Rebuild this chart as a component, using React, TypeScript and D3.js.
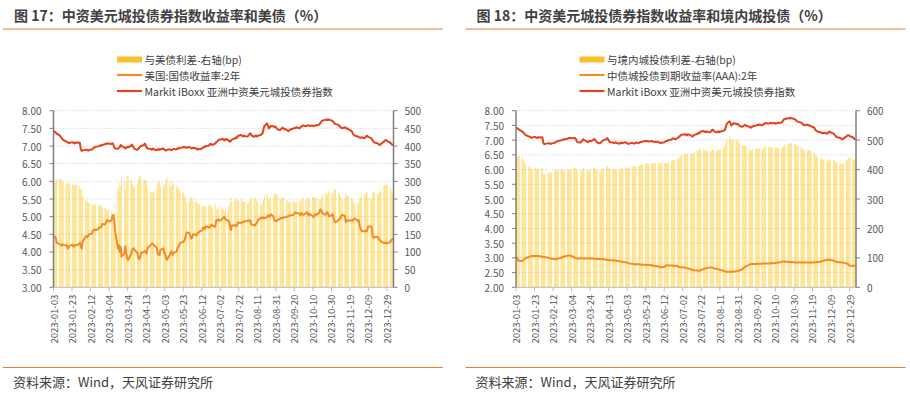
import React from 'react';
import * as d3 from 'd3';

// Markit iBoxx 亚洲中资美元城投债券指数 (%), one value per trading day
const markitIndex = [
  7.43, 7.40, 7.38, 7.35,
  7.30, 7.27, 7.24, 7.20, 7.17, 7.13, 7.12, 7.10, 7.08, 7.09,
  7.11, 7.09, 7.07, 7.10, 7.09, 7.10, 7.09, 6.90, 6.86, 6.88,
  6.89, 6.90, 6.88, 6.87, 6.89, 6.90, 6.93, 6.95, 6.96, 6.98,
  6.99, 7.00, 7.02, 7.01, 7.03, 7.05, 7.07, 7.06, 7.08, 7.07,
  7.06, 7.08, 7.05, 6.97, 6.93, 6.92, 6.95, 6.97, 7.03, 7.00,
  6.96, 6.93, 6.95, 6.98, 6.96, 7.00, 7.04, 7.01, 6.96, 6.92,
  6.89, 6.92, 6.95, 6.98, 7.00, 7.03, 7.07, 7.02, 6.96, 6.93,
  6.92, 6.90, 6.91, 6.93, 6.90, 6.88, 6.90, 6.92, 6.89, 6.91,
  6.93, 6.90, 6.88, 6.87, 6.89, 6.91, 6.89, 6.88, 6.90, 6.92,
  6.90, 6.92, 6.94, 6.93, 6.95, 6.96, 6.98, 6.96, 6.97, 6.95,
  6.97, 6.96, 6.94, 6.93, 6.95, 6.94, 6.92, 6.90, 6.92, 6.91,
  6.93, 6.96, 6.98, 6.97, 7.00, 7.01, 7.04, 7.06, 7.05, 7.03,
  7.07, 7.10, 7.13, 7.15, 7.18, 7.19, 7.21, 7.18, 7.16, 7.20,
  7.17, 7.14, 7.12, 7.15, 7.18, 7.21, 7.24, 7.22, 7.26, 7.29,
  7.31, 7.29, 7.27, 7.30, 7.28, 7.27, 7.30, 7.34, 7.36, 7.31,
  7.26, 7.28, 7.30, 7.27, 7.29, 7.31, 7.33, 7.35, 7.45, 7.56,
  7.64, 7.58, 7.50, 7.53, 7.57, 7.56, 7.54, 7.55, 7.51, 7.48,
  7.45, 7.48, 7.50, 7.52, 7.49, 7.46, 7.44, 7.42, 7.44, 7.47,
  7.49, 7.50, 7.52, 7.51, 7.53, 7.50, 7.52, 7.55, 7.57, 7.58,
  7.56, 7.57, 7.59, 7.58, 7.57, 7.58, 7.56, 7.57, 7.59, 7.58,
  7.60, 7.63, 7.67, 7.71, 7.72, 7.74, 7.75, 7.73, 7.76, 7.74,
  7.72, 7.70, 7.67, 7.64, 7.62, 7.60, 7.57, 7.55, 7.52, 7.50,
  7.53, 7.51, 7.49, 7.50, 7.47, 7.43, 7.39, 7.34, 7.31, 7.29,
  7.27, 7.25, 7.24, 7.23, 7.25, 7.22, 7.24, 7.28, 7.29, 7.26,
  7.23, 7.20, 7.16, 7.12, 7.10, 7.08, 7.06, 7.04, 7.03, 7.06,
  7.12, 7.15, 7.17, 7.16, 7.13,
  7.10, 7.07, 7.04, 7.01,
];

// 美国:国债收益率:2年 (%)
const ust2y = [
  4.45, 4.43, 4.38, 4.26,
  4.22, 4.21, 4.18, 4.22, 4.20, 4.18, 4.19, 4.10, 4.13, 4.18,
  4.21, 4.15, 4.17, 4.20, 4.19, 4.22, 4.26, 4.14, 4.10, 4.29,
  4.43, 4.45, 4.42, 4.46, 4.50, 4.52, 4.60, 4.62, 4.64, 4.61,
  4.66, 4.70, 4.69, 4.70, 4.79, 4.78, 4.82, 4.89, 4.90, 4.86,
  4.89, 5.01, 5.05, 4.90, 4.60, 4.10, 4.20, 4.00, 4.15, 3.87,
  3.95, 4.16, 3.96, 3.83, 3.77, 3.93, 4.03, 4.08, 4.11, 4.06,
  3.98, 3.84, 3.80, 3.83, 3.97, 4.00, 4.03, 3.99, 3.96, 4.10,
  4.19, 4.21, 4.24, 4.23, 4.18, 4.12, 3.96, 3.92, 3.91, 4.06,
  4.10, 3.98, 3.95, 3.82, 3.78, 3.92, 4.00, 4.02, 3.92, 3.98,
  4.00, 4.08, 4.14, 4.18, 4.25, 4.28, 4.30, 4.35, 4.42, 4.55,
  4.54, 4.46, 4.38, 4.40, 4.50, 4.49, 4.47, 4.53, 4.55, 4.58,
  4.61, 4.69, 4.70, 4.65, 4.72, 4.71, 4.69, 4.72, 4.78, 4.75,
  4.71, 4.87, 4.90, 4.93, 4.88, 4.92, 4.95, 4.96, 5.00, 4.93,
  4.88, 4.86, 4.72, 4.62, 4.75, 4.76, 4.74, 4.73, 4.80, 4.84,
  4.81, 4.85, 4.84, 4.86, 4.87, 4.88, 4.90, 4.88, 4.89, 4.78,
  4.76, 4.75, 4.80, 4.82, 4.89, 4.96, 4.98, 4.95, 4.98, 4.95,
  4.99, 5.04, 5.02, 5.00, 5.07, 5.00, 4.89, 4.88, 4.87, 4.90,
  4.93, 4.97, 4.96, 4.95, 4.98, 4.99, 5.00, 5.03, 5.02, 5.04,
  5.05, 5.07, 5.11, 5.12, 5.10, 5.09, 5.05, 5.10, 5.06, 5.05,
  5.09, 5.13, 5.09, 5.03, 5.08, 5.02, 4.99, 5.02, 5.07, 5.05,
  5.10, 5.19, 5.20, 5.14, 5.09, 5.05, 5.10, 5.13, 5.07, 5.01,
  5.04, 5.07, 4.95, 4.86, 4.84, 4.90, 4.93, 4.95, 5.01, 5.05,
  5.02, 4.85, 4.90, 4.88, 4.89, 4.90, 4.88, 4.92, 4.93, 4.95,
  4.88, 4.90, 4.73, 4.67, 4.60, 4.58, 4.60, 4.59, 4.60, 4.72,
  4.72, 4.70, 4.45, 4.40, 4.42, 4.43, 4.41, 4.35, 4.33, 4.30,
  4.25, 4.26, 4.24, 4.27, 4.25,
  4.28, 4.33, 4.35, 4.39,
];

// 中债城投债到期收益率(AAA):2年 (%)
const cnLgfv2y = [
  3.04, 2.97, 2.91, 2.90,
  2.89, 2.91, 2.94, 2.97, 2.99, 3.03, 3.04, 3.05, 3.06, 3.06,
  3.06, 3.06, 3.06, 3.06, 3.06, 3.05, 3.04, 3.03, 3.03, 3.02,
  3.01, 3.00, 2.99, 2.98, 2.97, 2.96, 2.95, 2.96, 2.97, 2.98,
  3.00, 3.02, 3.03, 3.04, 3.05, 3.07, 3.08, 3.08, 3.07, 3.07,
  3.03, 3.00, 2.99, 2.98, 2.98, 2.98, 2.99, 2.99, 2.98, 2.98,
  2.98, 2.98, 2.99, 2.99, 2.98, 2.98, 2.97, 2.97, 2.97, 2.96,
  2.96, 2.96, 2.95, 2.95, 2.95, 2.94, 2.93, 2.93, 2.93, 2.92,
  2.92, 2.91, 2.91, 2.91, 2.90, 2.89, 2.88, 2.87, 2.87, 2.86,
  2.85, 2.84, 2.83, 2.82, 2.81, 2.80, 2.79, 2.78, 2.78, 2.78,
  2.78, 2.78, 2.77, 2.77, 2.77, 2.77, 2.76, 2.76, 2.76, 2.76,
  2.75, 2.74, 2.73, 2.72, 2.72, 2.71, 2.70, 2.69, 2.68, 2.68,
  2.70, 2.73, 2.75, 2.75, 2.74, 2.74, 2.74, 2.73, 2.73, 2.73,
  2.72, 2.70, 2.69, 2.68, 2.68, 2.67, 2.66, 2.66, 2.65, 2.64,
  2.62, 2.60, 2.59, 2.59, 2.58, 2.57, 2.56, 2.56, 2.57, 2.59,
  2.61, 2.63, 2.64, 2.65, 2.66, 2.67, 2.67, 2.67, 2.66, 2.64,
  2.63, 2.62, 2.61, 2.60, 2.59, 2.57, 2.55, 2.54, 2.53, 2.53,
  2.53, 2.53, 2.53, 2.53, 2.54, 2.54, 2.55, 2.56, 2.56, 2.58,
  2.62, 2.65, 2.68, 2.70, 2.72, 2.76, 2.78, 2.78, 2.79, 2.79,
  2.79, 2.79, 2.80, 2.80, 2.80, 2.80, 2.81, 2.81, 2.81, 2.81,
  2.81, 2.81, 2.82, 2.82, 2.82, 2.82, 2.83, 2.83, 2.84, 2.84,
  2.86, 2.88, 2.88, 2.88, 2.87, 2.87, 2.86, 2.86, 2.86, 2.85,
  2.85, 2.84, 2.84, 2.84, 2.84, 2.84, 2.84, 2.84, 2.84, 2.84,
  2.84, 2.84, 2.84, 2.84, 2.84, 2.84, 2.85, 2.85, 2.86, 2.86,
  2.87, 2.88, 2.89, 2.90, 2.91, 2.93, 2.94, 2.94, 2.94, 2.93,
  2.91, 2.89, 2.88, 2.87, 2.86, 2.85, 2.85, 2.84, 2.84, 2.83,
  2.82, 2.81, 2.78, 2.75, 2.73,
  2.73, 2.73, 2.73, 2.73,
];

// 与美债利差-右轴 (bp)
const spreadVsUst = [
  298, 297, 300, 309,
  308, 306, 306, 298, 297, 295, 293, 300, 295, 291,
  290, 294, 290, 290, 290, 288, 283, 276, 276, 259,
  246, 245, 246, 241, 239, 238, 233, 233, 232, 237,
  233, 230, 233, 231, 224, 227, 225, 217, 218, 221,
  217, 207, 200, 207, 233, 282, 275, 297, 288, 313,
  301, 277, 299, 315, 319, 307, 301, 293, 285, 286,
  291, 308, 315, 315, 303, 303, 304, 303, 300, 283,
  273, 269, 267, 270, 272, 276, 294, 300, 298, 285,
  283, 292, 293, 305, 311, 299, 289, 286, 298, 294,
  290, 284, 280, 275, 270, 268, 268, 261, 255, 240,
  243, 250, 256, 253, 245, 245, 245, 237, 237, 233,
  232, 227, 228, 232, 228, 230, 235, 234, 227, 228,
  236, 223, 223, 222, 230, 227, 226, 222, 216, 227,
  229, 228, 240, 253, 243, 245, 250, 249, 246, 245,
  250, 244, 243, 244, 241, 239, 240, 246, 247, 253,
  250, 253, 250, 245, 240, 235, 235, 240, 247, 261,
  265, 254, 248, 253, 250, 256, 265, 267, 264, 258,
  252, 251, 254, 257, 251, 247, 244, 239, 242, 243,
  244, 243, 241, 239, 243, 241, 247, 245, 251, 253,
  247, 244, 250, 255, 249, 256, 257, 255, 252, 253,
  250, 244, 247, 257, 263, 269, 265, 260, 269, 273,
  268, 263, 272, 278, 278, 270, 264, 260, 251, 245,
  251, 266, 259, 262, 258, 253, 251, 242, 238, 234,
  239, 235, 251, 256, 265, 264, 264, 269, 269, 254,
  251, 250, 271, 272, 268, 265, 265, 269, 270, 276,
  287, 289, 293, 289, 288,
  282, 274, 269, 262,
];

// 与境内城投债利差-右轴 (bp)
const spreadVsLgfv = [
  439, 443, 447, 445,
  441, 436, 430, 423, 418, 410, 408, 405, 402, 403,
  405, 403, 401, 404, 403, 405, 405, 387, 383, 386,
  388, 390, 389, 389, 392, 394, 398, 399, 399, 400,
  399, 398, 399, 397, 398, 398, 399, 398, 401, 400,
  403, 408, 406, 399, 395, 394, 396, 398, 405, 402,
  398, 395, 396, 399, 398, 402, 407, 404, 399, 396,
  393, 396, 400, 403, 405, 409, 414, 409, 403, 401,
  400, 399, 400, 402, 400, 399, 402, 405, 402, 405,
  408, 406, 405, 405, 408, 411, 410, 410, 412, 414,
  412, 414, 417, 416, 418, 419, 422, 420, 421, 419,
  422, 422, 421, 421, 423, 423, 422, 421, 424, 423,
  423, 423, 423, 422, 426, 427, 430, 433, 432, 430,
  435, 440, 444, 447, 450, 452, 455, 452, 451, 456,
  455, 454, 453, 456, 460, 464, 468, 466, 469, 470,
  470, 466, 463, 465, 462, 460, 463, 467, 470, 467,
  463, 466, 469, 467, 470, 474, 478, 481, 492, 503,
  511, 505, 497, 500, 503, 502, 499, 499, 495, 490,
  483, 483, 482, 482, 477, 470, 466, 464, 465, 468,
  470, 471, 472, 471, 473, 470, 471, 474, 476, 477,
  475, 476, 477, 476, 475, 476, 473, 474, 475, 474,
  474, 475, 479, 483, 485, 487, 489, 487, 490, 489,
  487, 486, 483, 480, 478, 476, 473, 471, 468, 466,
  469, 467, 465, 466, 463, 459, 454, 449, 445, 443,
  440, 437, 435, 433, 434, 429, 430, 434, 435, 433,
  432, 431, 428, 425, 424, 423, 421, 420, 419, 423,
  430, 434, 439, 441, 440,
  437, 434, 431, 428,
];

const tickLabels = [
  '2023-01-03', '2023-01-23', '2023-02-12', '2023-03-04', '2023-03-24',
  '2023-04-13', '2023-05-03', '2023-05-23', '2023-06-12', '2023-07-02',
  '2023-07-22', '2023-08-11', '2023-08-31', '2023-09-20', '2023-10-10',
  '2023-10-30', '2023-11-19', '2023-12-09', '2023-12-29',
];

const parse = d3.timeParse('%Y-%m-%d');
const firstDay = parse('2023-01-03') as Date;
const lastDay = parse('2024-01-04') as Date;
const axisEnd = parse('2024-01-05') as Date;
// trading days (Mon-Fri) between first and last day
const tradeDays = d3.timeDay
  .range(firstDay, d3.timeDay.offset(lastDay, 1))
  .filter((d) => d.getDay() !== 0 && d.getDay() !== 6);

const FONT = '"Noto Sans CJK SC", "Noto Sans", sans-serif';
const TEXT = '#404040';
const AXIS_TXT = '#595959';
const RULE = '#ED7D31';
const RED = '#E2421C';
const ORANGE = '#F58A2A';
const BAR = '#FFC000';

type PanelProps = {
  off: number;
  title: string;
  legend: string[];
  yieldVals: number[];
  spreadVals: number[];
  leftMin: number;
  rightMax: number;
  rightStep: number;
};

function Panel({ off, title, legend, yieldVals, spreadVals, leftMin, rightMax, rightStep }: PanelProps) {
  const left = off + 53.5;
  const right = off + 393.5;
  const top = 110.7;
  const bottom = 287.3;

  const x = d3.scaleTime().domain([firstDay, axisEnd]).range([left, right]);
  const yL = d3.scaleLinear().domain([leftMin, 8]).range([bottom, top]);
  const yR = d3.scaleLinear().domain([0, rightMax]).range([bottom, top]);
  const dayW = x(d3.timeDay.offset(firstDay, 1)) - x(firstDay);
  const barW = dayW * 0.7;

  const leftTicks = d3.range(leftMin, 8.001, 0.5);
  const rightTicks = d3.range(0, rightMax + 0.1, rightStep);
  const n = Math.min(tradeDays.length, yieldVals.length, spreadVals.length, markitIndex.length);

  const line = d3.line<number>()
    .x((_, i) => x(tradeDays[i]) + dayW / 2)
    .y((v) => yL(v));

  return (
    <g fontFamily={FONT}>
      <text x={off + 14} y={20.5} fontSize={14} fontWeight="bold" fill={TEXT}>{title}</text>
      <line x1={off + 3} x2={off + 443} y1={29} y2={29} stroke={RULE} strokeWidth={1.2} />

      {/* legend */}
      <rect x={off + 117} y={56.5} width={25} height={6} fill="#FBC02D" />
      <line x1={off + 117} x2={off + 142} y1={75} y2={75} stroke={ORANGE} strokeWidth={2.2} />
      <line x1={off + 117} x2={off + 142} y1={91} y2={91} stroke={RED} strokeWidth={2.2} />
      {legend.map((t, i) => (
        <text key={t} x={off + 144.5} y={59.5 + i * 15.8} fontSize={10.5} fill={TEXT} dominantBaseline="central">{t}</text>
      ))}

      {/* dotted grid */}
      {leftTicks.map((t) => (
        <line key={`g${t}`} x1={left} x2={right} y1={yL(t)} y2={yL(t)} stroke="#D4D4D4" strokeWidth={0.8} strokeDasharray="1.5,1.5" />
      ))}

      {/* spread bars on right axis */}
      {tradeDays.slice(0, n).map((d, i) => (
        <rect key={i} x={x(d) + (dayW - barW) / 2} width={barW} y={yR(spreadVals[i])}
          height={bottom - yR(spreadVals[i])} fill={BAR} fillOpacity={0.62} />
      ))}

      <path d={line(yieldVals.slice(0, n)) ?? ''} fill="none" stroke={ORANGE} strokeWidth={2} strokeLinejoin="round" />
      <path d={line(markitIndex.slice(0, n)) ?? ''} fill="none" stroke={RED} strokeWidth={2} strokeLinejoin="round" />

      {/* axes */}
      <line x1={left} x2={right} y1={bottom} y2={bottom} stroke="#BFBFBF" strokeWidth={1} />
      <line x1={left} x2={left} y1={top} y2={bottom} stroke="#7F7F7F" strokeWidth={1.5} />
      <line x1={right} x2={right} y1={top} y2={bottom} stroke="#7F7F7F" strokeWidth={1.5} />
      {leftTicks.map((t) => (
        <g key={`l${t}`}>
          <line x1={left - 4} x2={left} y1={yL(t)} y2={yL(t)} stroke="#7F7F7F" />
          <text x={left - 12} y={yL(t)} fontSize={10} fill={AXIS_TXT} textAnchor="end" dominantBaseline="central">{t.toFixed(2)}</text>
        </g>
      ))}
      {rightTicks.map((t) => (
        <g key={`r${t}`}>
          <line x1={right} x2={right + 4} y1={yR(t)} y2={yR(t)} stroke="#7F7F7F" />
          <text x={right + 11} y={yR(t)} fontSize={10} fill={AXIS_TXT} dominantBaseline="central">{t}</text>
        </g>
      ))}
      {tickLabels.map((s) => {
        const tx = x(parse(s) as Date);
        return (
          <g key={s}>
            <line x1={tx} x2={tx} y1={bottom} y2={bottom + 4} stroke="#BFBFBF" />
            <text transform={`translate(${tx},${bottom + 7.5}) rotate(-90)`} fontSize={9.5} fill={AXIS_TXT}
              textAnchor="end" dominantBaseline="central">{s}</text>
          </g>
        );
      })}

      {/* source */}
      <line x1={off + 3} x2={off + 443} y1={367.5} y2={367.5} stroke={RULE} strokeWidth={1.2} />
      <text x={off + 13} y={387} fontSize={13} fill={TEXT}>资料来源：Wind，天风证券研究所</text>
    </g>
  );
}

export default function App() {
  return (
    <svg width={910} height={397} style={{ position: 'absolute', left: 0, top: 0, background: '#fff' }}>
      <Panel
        off={0}
        title="图 17：中资美元城投债券指数收益率和美债（%）"
        legend={['与美债利差-右轴(bp)', '美国:国债收益率:2年', 'Markit iBoxx 亚洲中资美元城投债券指数']}
        yieldVals={ust2y}
        spreadVals={spreadVsUst}
        leftMin={3}
        rightMax={500}
        rightStep={50}
      />
      <Panel
        off={462.5}
        title="图 18：中资美元城投债券指数收益率和境内城投债（%）"
        legend={['与境内城投债利差-右轴(bp)', '中债城投债到期收益率(AAA):2年', 'Markit iBoxx 亚洲中资美元城投债券指数']}
        yieldVals={cnLgfv2y}
        spreadVals={spreadVsLgfv}
        leftMin={2}
        rightMax={600}
        rightStep={100}
      />
    </svg>
  );
}
